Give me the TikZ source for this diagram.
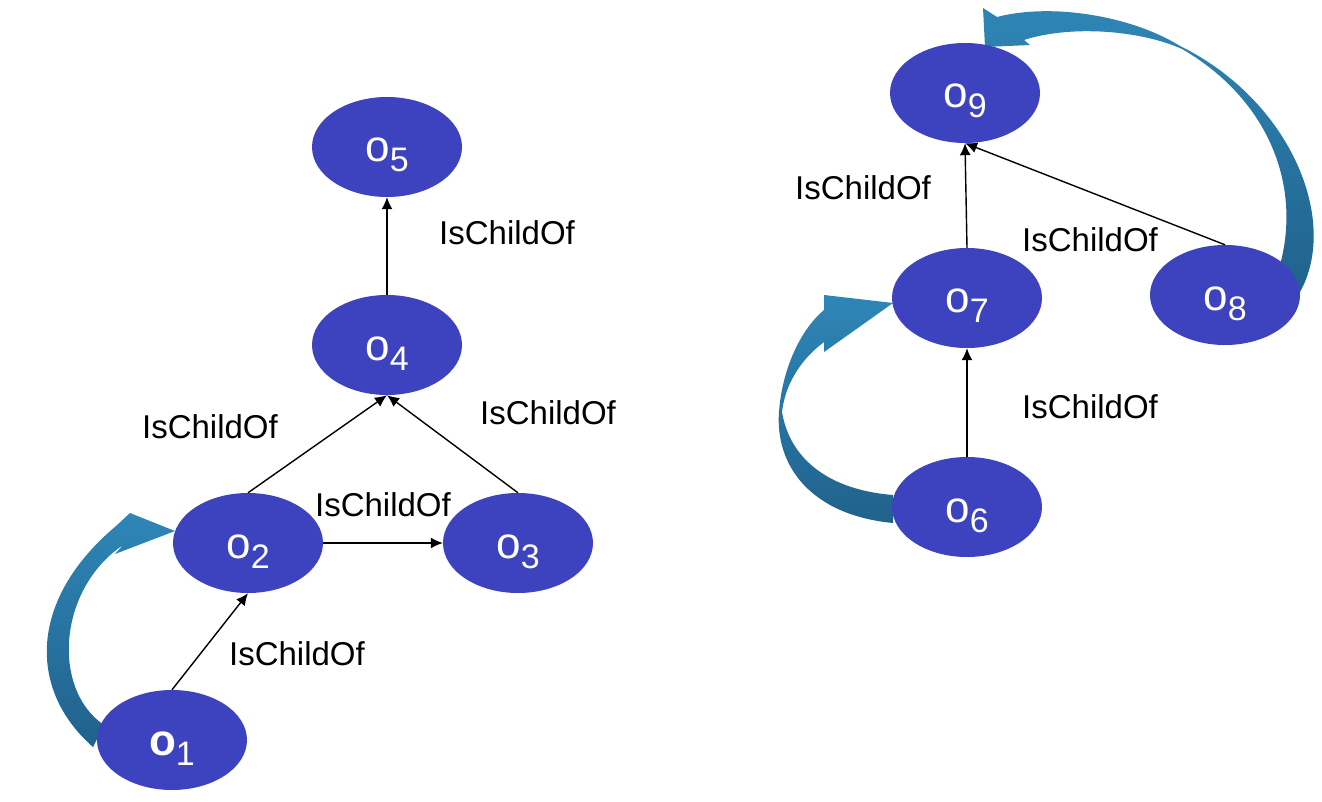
\documentclass[tikz,border=0pt]{standalone}
\usepackage{fontspec}
\setmainfont{Liberation Sans}
\usetikzlibrary{shapes.geometric,arrows.meta}
\definecolor{nodeblue}{RGB}{61,67,190}
\definecolor{ribbonlight}{RGB}{46,134,182}
\definecolor{ribbondark}{RGB}{32,98,140}
\tikzset{
  obj/.style={ellipse, fill=nodeblue, draw=none, minimum width=150pt, minimum height=100pt, inner sep=0pt, text=white},
  rel/.style={draw=black, line width=1.4pt, -{Latex[length=12pt,width=11pt]}},
  lbl/.style={inner sep=0pt, font=\fontsize{33}{33}\selectfont},
  ribbon/.style={top color=ribbonlight, bottom color=ribbondark, draw=none},
}
\newcommand{\obname}[2][]{\raisebox{-15pt}[0pt][0pt]{\fontsize{44}{44}\selectfont #1o\raisebox{-10pt}{\fontsize{34}{34}\mdseries\selectfont #2}}}
\begin{document}
\begin{tikzpicture}[x=1pt,y=-1pt]
\useasboundingbox (0,0) rectangle (1322,802);
% curved ribbon arrows (drawn behind the nodes)
\path[ribbon] (93,747) .. controls (28,690) and (28,600) .. (116,526)
  -- (130,513) -- (175,531) -- (115,554) -- (123,545)
  .. controls (57,590) and (52,690) .. (104,725) -- cycle;
\path[ribbon] (893,523) .. controls (810,515) and (775,465) .. (779,412)
  .. controls (782,370) and (800,330) .. (824,310)
  -- (824,295) -- (893,303) -- (824,352) -- (824,342)
  .. controls (800,360) and (785,385) .. (782,412)
  .. controls (790,460) and (830,490) .. (893,495) -- cycle;
\path[ribbon] (1300,292) .. controls (1340,220) and (1290,100) .. (1180,46)
  .. controls (1130,15) and (1050,3) .. (997,17)
  -- (983,8) -- (985,47) -- (1030,45) -- (1024,40)
  .. controls (1070,25) and (1140,30) .. (1182,49)
  .. controls (1270,100) and (1305,190) .. (1277,275) -- cycle;
% nodes
\node[obj] (o5) at (387,147) {\obname{5}};
\node[obj] (o4) at (387,345) {\obname{4}};
\node[obj] (o2) at (248,543) {\obname{2}};
\node[obj] (o3) at (518,543) {\obname{3}};
\node[obj] (o1) at (172,740) {\obname[\bfseries]{1}};
\node[obj] (o9) at (965,93) {\obname{9}};
\node[obj] (o7) at (967,298) {\obname{7}};
\node[obj] (o8) at (1225,295) {\obname{8}};
\node[obj] (o6) at (967,507) {\obname{6}};
% connectors
\draw[rel] (o4.north) -- (o5.south);
\draw[rel] (o2.north) -- (o4.south);
\draw[rel] (o3.north) -- (o4.south);
\draw[rel] (o2.east) -- (o3.west);
\draw[rel] (o1.north) -- (o2.south);
\draw[rel] (o7.north) -- (o9.south);
\draw[rel] (o8.north) -- (o9.south);
\draw[rel] (o6.north) -- (o7.south);
% labels
\node[lbl] (l45) at (507,233) {IsChildOf};
\node[lbl] (l24) at (210,427) {IsChildOf};
\node[lbl] (l34) at (548,413) {IsChildOf};
\node[lbl] (l23) at (383,505) {IsChildOf};
\node[lbl] (l12) at (297,654) {IsChildOf};
\node[lbl] (l79) at (863,188) {IsChildOf};
\node[lbl] (l89) at (1090,240) {IsChildOf};
\node[lbl] (l67) at (1090,407) {IsChildOf};
\end{tikzpicture}
\end{document}
